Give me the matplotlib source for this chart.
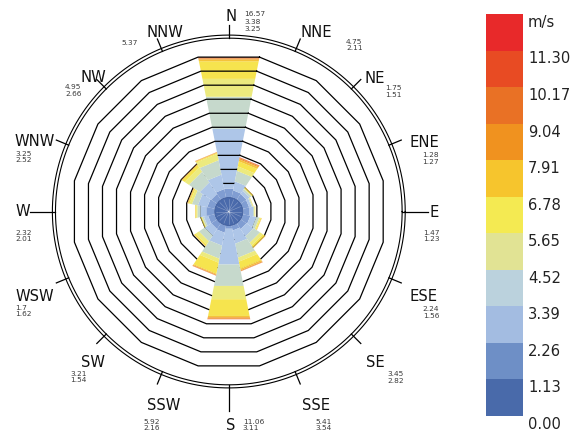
import numpy as np
import matplotlib
matplotlib.use('Agg')
import matplotlib.pyplot as plt
from matplotlib.patches import Polygon, Circle

# ---- data ----
directions = ['N', 'NNE', 'NE', 'ENE', 'E', 'ESE', 'SE', 'SSE',
              'S', 'SSW', 'SW', 'WSW', 'W', 'WNW', 'NW', 'NNW']
total_freq = [16.57, 4.75, 1.75, 1.28, 1.47, 2.24, 3.45, 5.41,
              11.06, 5.92, 3.21, 1.7, 2.32, 3.25, 4.95, 5.37]
second_val = [3.38, 2.11, 1.51, 1.27, 1.23, 1.56, 2.82, 3.54,
              3.11, 2.16, 1.54, 1.62, 2.01, 2.52, 2.66, 3.25]
speed_edges = [0.00, 1.13, 2.26, 3.39, 4.52, 5.65, 6.78, 7.91, 9.04, 10.17, 11.30]

# frequency (%) per speed bin, one row per direction
bin_freq = [
    [0.05, 0.98, 7.08, 3.78, 2.11, 2.08, 0.20, 0.13, 0.08, 0.06, 0.02],  # N
    [0.05, 0.80, 1.06, 1.24, 0.53, 0.59, 0.23, 0.14, 0.08, 0.02, 0.01],  # NNE
    [0.05, 0.75, 0.45, 0.25, 0.12, 0.08, 0.03, 0.01, 0.01, 0.00, 0.00],  # NE
    [0.05, 0.70, 0.30, 0.13, 0.06, 0.03, 0.01, 0.00, 0.00, 0.00, 0.00],  # ENE
    [0.05, 0.75, 0.40, 0.15, 0.07, 0.04, 0.01, 0.00, 0.00, 0.00, 0.00],  # E
    [0.05, 0.85, 0.70, 0.35, 0.15, 0.10, 0.03, 0.01, 0.00, 0.00, 0.00],  # ESE
    [0.05, 0.75, 1.00, 0.90, 0.40, 0.25, 0.07, 0.03, 0.00, 0.00, 0.00],  # SE
    [0.05, 0.55, 1.55, 1.65, 0.47, 0.83, 0.18, 0.09, 0.03, 0.01, 0.00],  # SSE
    [0.05, 0.33, 4.22, 2.53, 1.57, 1.97, 0.16, 0.17, 0.04, 0.01, 0.01],  # S
    [0.05, 0.80, 1.53, 1.54, 0.47, 1.30, 0.11, 0.08, 0.03, 0.01, 0.00],  # SSW
    [0.05, 0.75, 0.90, 0.80, 0.45, 0.20, 0.04, 0.02, 0.00, 0.00, 0.00],  # SW
    [0.05, 0.75, 0.50, 0.20, 0.12, 0.06, 0.02, 0.00, 0.00, 0.00, 0.00],  # WSW
    [0.05, 0.95, 0.70, 0.35, 0.15, 0.08, 0.03, 0.01, 0.00, 0.00, 0.00],  # W
    [0.05, 0.85, 1.10, 0.70, 0.30, 0.15, 0.05, 0.04, 0.01, 0.00, 0.00],  # WNW
    [0.05, 0.75, 1.60, 1.50, 0.60, 0.35, 0.05, 0.03, 0.02, 0.00, 0.00],  # NW
    [0.05, 0.95, 1.70, 1.70, 0.75, 0.10, 0.07, 0.03, 0.02, 0.00, 0.00],  # NNW
]

# ---- styles ----
cbar_colors = ['#496aaa', '#6e8fc6', '#a3bce1', '#bbd2dd', '#e1e394', '#f4ea52',
               '#f6c52d', '#f0921f', '#e97125', '#e84b23', '#e8292a']
bar_colors = ['#5470b0', '#809dd2', '#aec6e8', '#c6d9cc', '#ecea7e', '#f6e44e',
              '#f5c33a', '#f09a30', '#eb7530', '#e85528', '#e6362a']

W_PX, H_PX = 580, 435
CX, CY = 228.8, 212.5       # rose centre in pixels
S = 8.47                    # pixels per percent

def px(x, y):
    return (x - CX) / S, (CY - y) / S

fig = plt.figure(figsize=(5.8, 4.35), dpi=100)
ax = fig.add_axes([0, 0, 1, 1])
ax.set_xlim(-CX / S, (W_PX - CX) / S)
ax.set_ylim(-(H_PX - CY) / S, CY / S)
ax.axis('off')

n = len(directions)
half = np.radians(360 / n / 2)
step = max(total_freq) / 10          # ring spacing, also calm radius
calm = step

def pt(ang, d):
    return d * np.sin(ang), d * np.cos(ang)

# bars
for i in range(n):
    th = np.radians(i * 360 / n)
    cum = np.concatenate([[0], np.cumsum(bin_freq[i])])
    z = 1 if directions[i] == 'N' else 3
    for b in range(len(bin_freq[i])):
        if bin_freq[i][b] <= 0:
            continue
        r0 = (calm + cum[b]) / np.cos(half)
        r1 = (calm + cum[b + 1]) / np.cos(half)
        poly = [pt(th - half, r0), pt(th - half, r1), pt(th + half, r1), pt(th + half, r0)]
        ax.add_patch(Polygon(poly, closed=True, facecolor=bar_colors[b],
                             edgecolor='none', zorder=z))

# grid rings (16-gons)
angs = np.radians(np.arange(n + 1) * 360 / n) + half
for k in range(1, 11):
    d = step * (k + 1) / np.cos(half)
    ax.plot(d * np.sin(angs), d * np.cos(angs), color='black', lw=0.9, zorder=2)

# calm circle
ax.add_patch(Circle((0, 0), calm, facecolor='#4a6aab', edgecolor='#3d5d9e',
                    lw=0.6, zorder=4))
for i in range(n):
    th = np.radians(i * 360 / n)
    ax.plot([0, 0.9 * calm * np.sin(th)], [0, 0.9 * calm * np.cos(th)],
            color='white', lw=0.4, alpha=0.35, zorder=4)

# outer circles and ticks
t = np.linspace(0, 2 * np.pi, 400)
for rr in (12.35 * step, 12.57 * step):
    ax.plot(rr * np.cos(t), rr * np.sin(t), color='black', lw=0.8, zorder=5)
for i, d in enumerate(directions):
    th = np.radians(i * 360 / n)
    r_end = 14.2 * step if d in ('E', 'S', 'W') else 13.3 * step
    x0, y0 = pt(th, 12.35 * step)
    x1, y1 = pt(th, r_end)
    ax.plot([x0, x1], [y0, y1], color='black', lw=0.9, zorder=5)

# direction labels (pixel centres) and number blocks (left x, first line centre y)
label_pos = [(231, 16), (316.8, 31.7), (375, 77.5), (424.2, 141.3), (434.2, 212),
             (423.8, 295.2), (375.5, 361.3), (315.8, 405), (231, 424.2), (164, 405),
             (92.5, 361.7), (35, 295.5), (22.5, 210.8), (35, 140.5), (93.7, 76.7),
             (165, 31.7)]
num_pos = [(244, 13.5), (346, 41.2), (385, 87.8), (421.7, 154.5), (422.7, 232),
           (422.7, 308.8), (387.3, 373.3), (315, 421), (242.7, 421), (143.5, 421),
           (70, 373), (15, 307), (15, 232), (15, 153), (65, 86.3), (121.7, 42.2)]

LAB_FS = 10.6
NUM_FS = 5.3
lab_em = LAB_FS * 100 / 72
num_em = NUM_FS * 100 / 72

for i, d in enumerate(directions):
    lx, ly = label_pos[i]
    ax.text(*px(lx, ly + 0.3645 * lab_em), d, fontsize=LAB_FS, color='#111111',
            ha='center', va='baseline', zorder=6)
    nx, ny = num_pos[i]
    spacing = 7.4 if d == 'N' else 6.6
    ax.text(*px(nx, ny + 0.3645 * num_em), str(total_freq[i]), fontsize=NUM_FS,
            color='#3a3a3a', ha='left', va='baseline', zorder=6)
    if d == 'NNW':
        # drawn under the N block in the original
        sx, sy = num_pos[0][0], num_pos[0][1] + 2 * 7.4
    else:
        sx, sy = nx, ny + spacing
    ax.text(*px(sx, sy + 0.3645 * num_em), str(second_val[i]), fontsize=NUM_FS,
            color='#3a3a3a', ha='left', va='baseline', zorder=6)

# colour bar
cax = fig.add_axes([486 / W_PX, (H_PX - 417) / H_PX, 37 / W_PX, 402 / H_PX])
nb = len(cbar_colors)
cax.bar([0.5] * nb, [1] * nb, bottom=np.arange(nb), width=1.0,
        color=cbar_colors, edgecolor='none')
cax.set_xlim(0, 1)
cax.set_ylim(0, nb)
cax.axis('off')
blk = 402 / nb
off = (6.5 + 0.3645 * lab_em) / blk
cb_labels = ['%.2f' % v for v in speed_edges] + ['m/s']
for j, lab in enumerate(cb_labels):
    cax.text(1.135, j - off, lab, fontsize=LAB_FS, color='#222222',
             ha='left', va='baseline', transform=cax.transData, clip_on=False)

fig.savefig('out.png', dpi=100)
